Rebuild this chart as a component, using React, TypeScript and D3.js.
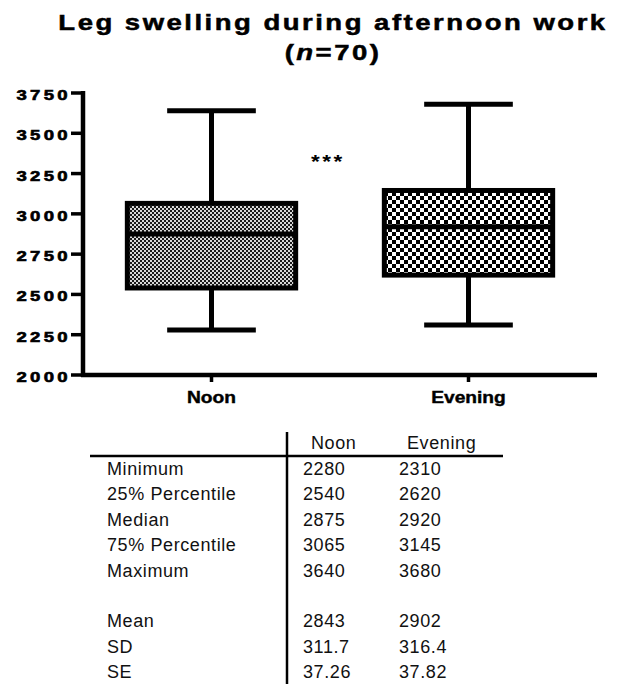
import React from 'react';
import * as d3 from 'd3';

// values
const categories = ['Noon', 'Evening'];
const minimum = [2280, 2310];
const q1 = [2540, 2620];
const median = [2875, 2920];
const q3 = [3065, 3145];
const maximum = [3640, 3680];
const means = ['2843', '2902'];
const sds = ['311.7', '316.4'];
const ses = ['37.26', '37.82'];
const yTicks = [2000, 2250, 2500, 2750, 3000, 3250, 3500, 3750];
const boxRowLabels = ['Minimum', '25% Percentile', 'Median', '75% Percentile', 'Maximum'];
const summaryRowLabels = ['Mean', 'SD', 'SE'];

const W = 626;
const H = 684;
const FONT = '"Liberation Sans", Arial, Helvetica, sans-serif';

// a helper for the horizontally stretched lettering of the original
function Stretched(props: any) {
  const { x, y, sx = 1, anchor = 'start', ls = 0, size, weight = 'normal', fill = '#000', heavy = 0, children } = props;
  return (
    <text
      transform={`translate(${x},${y}) scale(${sx},1)`}
      textAnchor={anchor}
      fontFamily={FONT}
      fontSize={size}
      fontWeight={weight}
      letterSpacing={ls}
      fill={fill}
      stroke={heavy ? fill : 'none'}
      strokeWidth={heavy}
    >
      {children}
    </text>
  );
}

export default function App() {
  const plot = { left: 83, right: 597, top: 93, bottom: 375 };

  const y = d3.scaleLinear()
    .domain([d3.min(yTicks)!, d3.max(yTicks)!])
    .range([plot.bottom, plot.top]);

  const x = d3.scaleBand()
    .domain(categories)
    .range([plot.left, plot.right]);

  const center = (c: string) => x(c)! + x.bandwidth() / 2;
  const boxW = x.bandwidth() * 0.655;
  const capW = x.bandwidth() * 0.345;

  const boxes = categories.map((c, i) => ({
    name: c,
    min: minimum[i], q1: q1[i], med: median[i], q3: q3[i], max: maximum[i],
    fill: i === 0 ? 'url(#fineCheck)' : 'url(#coarseCheck)',
  }));

  // table rows: box statistics, a blank row, then summary statistics
  const tableRows = [
    ...boxRowLabels.map((label, i) => ({
      label, vals: [minimum, q1, median, q3, maximum][i].map(String), row: i,
    })),
    ...summaryRowLabels.map((label, i) => ({
      label, vals: [means, sds, ses][i], row: i + 6,
    })),
  ];
  const rowY = d3.scaleLinear().domain([0, 8]).range([475, 678]);
  const colX = d3.scaleOrdinal<string, number>().domain(categories).range([303, 399]);

  return (
    <svg width={W} height={H} style={{ position: 'absolute', left: 0, top: 0, background: '#fff' }}>
      <defs>
        <pattern id="fineCheck" width={4} height={4} patternUnits="userSpaceOnUse">
          <rect width={4} height={4} fill="#d8d8d8" />
          <rect width={2} height={2} fill="#1a1a1a" />
          <rect x={2} y={2} width={2} height={2} fill="#1a1a1a" />
        </pattern>
        <pattern id="coarseCheck" width={8} height={8} patternUnits="userSpaceOnUse">
          <rect width={8} height={8} fill="#fff" />
          <rect width={4} height={4} fill="#000" />
          <rect x={4} y={4} width={4} height={4} fill="#000" />
        </pattern>
      </defs>

      {/* title */}
      <Stretched x={333} y={30} sx={1.25} anchor="middle" ls={2} size={22} weight="bold" heavy={0.5}>
        Leg swelling during afternoon work
      </Stretched>
      <Stretched x={333} y={60} sx={1.25} anchor="middle" ls={2} size={22} weight="bold" heavy={0.5}>
        (<tspan fontStyle="italic">n</tspan>=70)
      </Stretched>

      {/* y axis */}
      <line x1={plot.left} x2={plot.left} y1={plot.top - 2} y2={plot.bottom + 2} stroke="#000" strokeWidth={4.5} />
      {yTicks.map(t => (
        <g key={t}>
          <line x1={71} x2={plot.left} y1={y(t)} y2={y(t)} stroke="#000" strokeWidth={3.5} />
          <Stretched x={71} y={y(t) + 7} sx={1.28} anchor="end" ls={2.6} size={14.5} weight="bold" heavy={0.6}>
            {t}
          </Stretched>
        </g>
      ))}

      {/* x axis */}
      <line x1={plot.left - 2} x2={plot.right} y1={plot.bottom} y2={plot.bottom} stroke="#000" strokeWidth={4.5} />
      {categories.map(c => (
        <g key={c}>
          <line x1={center(c)} x2={center(c)} y1={plot.bottom} y2={plot.bottom + 7} stroke="#000" strokeWidth={3.5} />
          <Stretched x={center(c)} y={403} sx={1.2} anchor="middle" size={16} weight="bold" heavy={0.4}>
            {c}
          </Stretched>
        </g>
      ))}

      {/* boxes and whiskers */}
      {boxes.map(b => {
        const cx = center(b.name);
        return (
          <g key={b.name} stroke="#000" strokeWidth={5}>
            <line x1={cx} x2={cx} y1={y(b.max)} y2={y(b.q3)} />
            <line x1={cx} x2={cx} y1={y(b.q1)} y2={y(b.min)} />
            <line x1={cx - capW / 2} x2={cx + capW / 2} y1={y(b.max)} y2={y(b.max)} />
            <line x1={cx - capW / 2} x2={cx + capW / 2} y1={y(b.min)} y2={y(b.min)} />
            <rect x={cx - boxW / 2} y={y(b.q3)} width={boxW} height={y(b.q1) - y(b.q3)} fill={b.fill} />
            <line x1={cx - boxW / 2} x2={cx + boxW / 2} y1={y(b.med)} y2={y(b.med)} />
          </g>
        );
      })}

      {/* significance marker */}
      <Stretched x={(center(categories[0]) + center(categories[1])) / 2 - 12} y={168} sx={1.25} anchor="middle" ls={2} size={18} weight="bold">
        ***
      </Stretched>

      {/* statistics table */}
      <line x1={287} x2={287} y1={432} y2={H} stroke="#000" strokeWidth={2.5} />
      <line x1={90} x2={503} y1={456} y2={456} stroke="#000" strokeWidth={2.5} />
      {categories.map(c => (
        <Stretched key={c} x={colX(c) + 8} y={449} size={18} ls={0.6} fill="#111">
          {c}
        </Stretched>
      ))}
      {tableRows.map(r => (
        <g key={r.label}>
          <Stretched x={107} y={rowY(r.row)} size={18} ls={0.6} fill="#111">{r.label}</Stretched>
          {r.vals.map((v, i) => (
            <Stretched key={i} x={colX(categories[i])} y={rowY(r.row)} size={18} ls={0.6} fill="#111">{v}</Stretched>
          ))}
        </g>
      ))}
    </svg>
  );
}
